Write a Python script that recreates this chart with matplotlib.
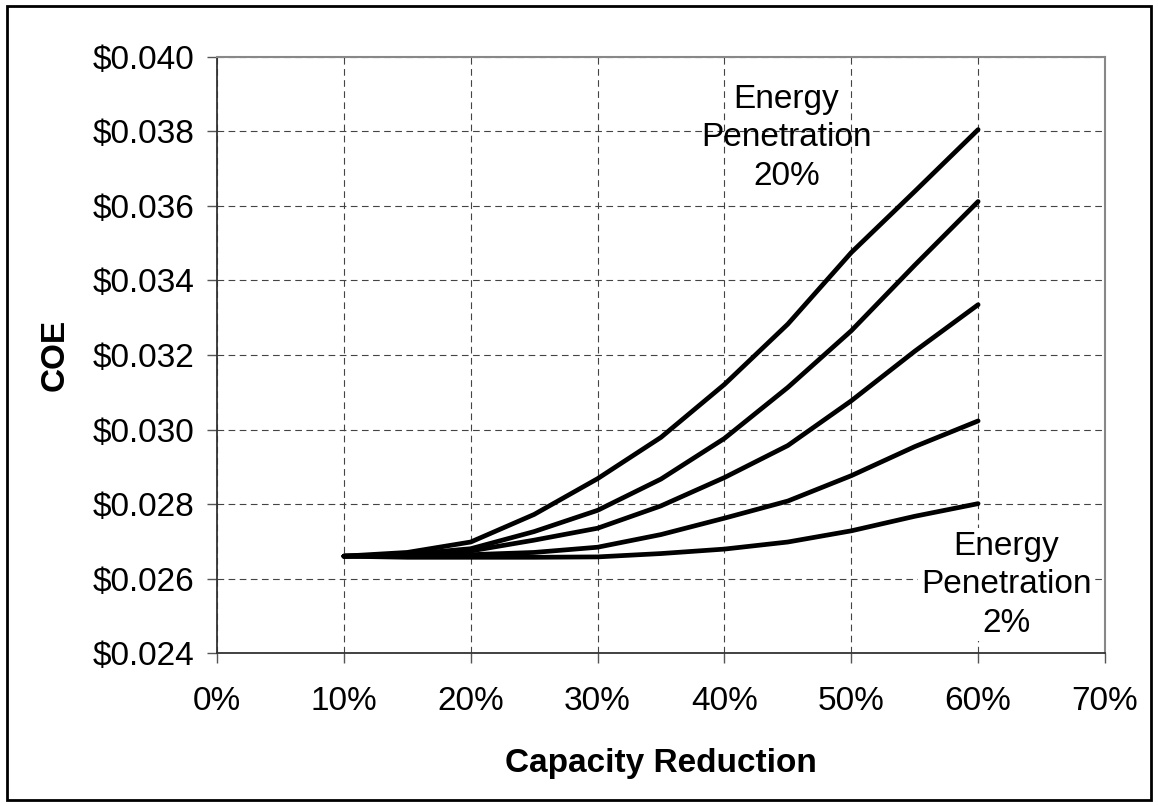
import matplotlib
matplotlib.use("Agg")
import matplotlib.pyplot as plt
from matplotlib.ticker import FuncFormatter, PercentFormatter, MultipleLocator
from matplotlib.patches import Rectangle

plt.rcParams['font.family'] = ['Liberation Sans', 'DejaVu Sans']

# capacity reduction (fraction)
cap_red = [0.10, 0.15, 0.20, 0.25, 0.30, 0.35, 0.40, 0.45, 0.50, 0.55, 0.60]

# cost of energy, one curve per energy penetration level (top = 20%, bottom = 2%)
coe_20 = [0.02660, 0.02670, 0.02698, 0.02772, 0.02868, 0.02979, 0.03121, 0.03283, 0.03475, 0.03639, 0.03805]
coe_b = [0.02660, 0.02665, 0.02680, 0.02726, 0.02783, 0.02867, 0.02976, 0.03113, 0.03265, 0.03441, 0.03612]
coe_c = [0.02660, 0.02663, 0.02674, 0.02703, 0.02735, 0.02795, 0.02871, 0.02957, 0.03077, 0.03210, 0.03335]
coe_d = [0.02660, 0.02660, 0.02664, 0.02670, 0.02684, 0.02718, 0.02762, 0.02808, 0.02876, 0.02954, 0.03023]
coe_2 = [0.02660, 0.02657, 0.02657, 0.02657, 0.02658, 0.02667, 0.02679, 0.02698, 0.02728, 0.02767, 0.02801]

fig = plt.figure(figsize=(11.58, 8.06), dpi=100)
ax = fig.add_axes([0.1874, 0.1898, 0.7668, 0.7395])

for ys in [coe_20, coe_b, coe_c, coe_d, coe_2]:
    ax.plot(cap_red, ys, color='black', lw=3.4, solid_capstyle='round',
            solid_joinstyle='round', zorder=3)

ax.set_xlim(0, 0.70)
ax.set_ylim(0.024, 0.040)
ax.xaxis.set_major_locator(MultipleLocator(0.10))
ax.yaxis.set_major_locator(MultipleLocator(0.002))
ax.xaxis.set_major_formatter(PercentFormatter(1.0, decimals=0))
ax.yaxis.set_major_formatter(FuncFormatter(lambda v, p: '\\$%.3f' % v))

ax.grid(True, color='#444444', linestyle=(0, (6, 4)), linewidth=0.8)
ax.tick_params(labelsize=24, length=7, width=1, color='#555555')
ax.tick_params(axis='x', pad=17)
ax.tick_params(axis='y', pad=9)

for s in ['left', 'bottom']:
    ax.spines[s].set_color('#333333')
    ax.spines[s].set_linewidth(1.3)
for s in ['top', 'right']:
    ax.spines[s].set_color('#888888')
    ax.spines[s].set_linewidth(1.5)

ax.set_xlabel('Capacity Reduction', fontsize=24, fontweight='bold', labelpad=22)
ax.set_ylabel('COE', fontsize=24, fontweight='bold', labelpad=16)

ax.text(0.449, 0.03783, 'Energy\nPenetration\n20%', fontsize=24, ha='center', va='center',
        linespacing=1.3, zorder=4)
ax.text(0.622, 0.02583, 'Energy\nPenetration\n2%', fontsize=24, ha='center', va='center',
        linespacing=1.3, zorder=4,
        bbox=dict(facecolor='white', edgecolor='none', pad=2))

# outer border
fig.patches.append(Rectangle((0.006, 0.008), 0.988, 0.984, transform=fig.transFigure,
                             fill=False, edgecolor='black', linewidth=2))

fig.savefig('out.png', dpi=100)
